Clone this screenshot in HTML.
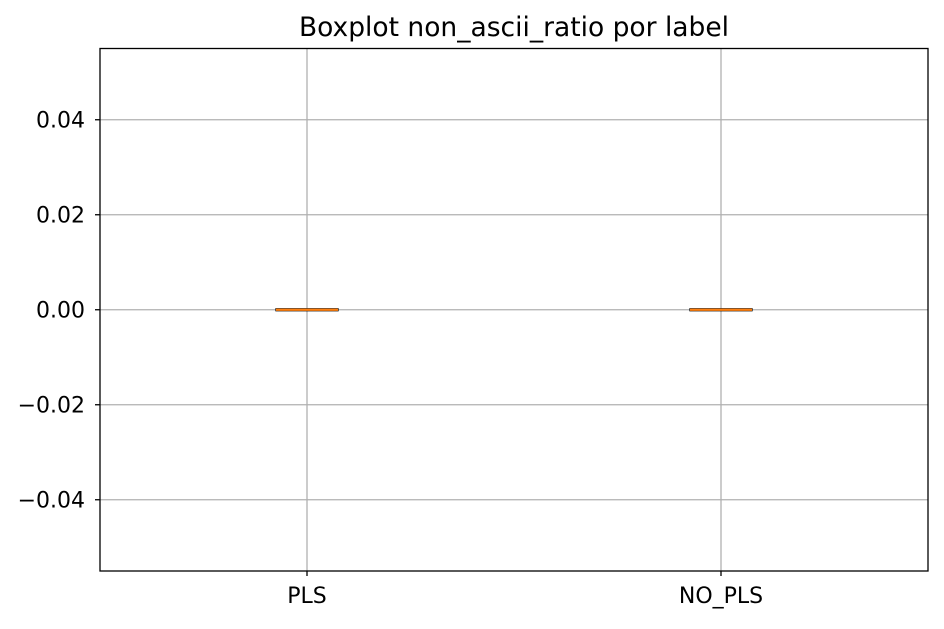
<!DOCTYPE html>
<html><head><meta charset="utf-8"><style>
html,body{margin:0;padding:0;background:#fff;}
svg text{font-family:"DejaVu Sans","Liberation Sans",sans-serif;fill:#000;}
</style></head><body>
<svg id="chart" width="944" height="624" xmlns="http://www.w3.org/2000/svg">
<text x="514" y="36" font-size="26.5" text-anchor="middle">Boxplot non_ascii_ratio por label</text>
<g id="grid"></g>
<g id="marks"></g>
<g id="axes"></g>
<rect x="100" y="48.5" width="828" height="522.5" fill="none" stroke="#000" stroke-width="1.3"/>
</svg>
<script>
const categories = ["PLS", "NO_PLS"];
const q1 = [0, 0];
const q3 = [0, 0];
const medians = [0, 0];
const whiskLo = [0, 0];
const whiskHi = [0, 0];
const yTicks = [0.04, 0.02, 0.00, -0.02, -0.04];
const yTickLabels = ["0.04", "0.02", "0.00", "\u22120.02", "\u22120.04"];

const L=100,R=928,T=48.5,B=571;
const yMin=-0.055,yMax=0.055;
const y=v=>B-(v-yMin)/(yMax-yMin)*(B-T);
const xMin=0.5,xMax=categories.length+0.5;
const x=i=>L+((i+1)-xMin)/(xMax-xMin)*(R-L);
const NS="http://www.w3.org/2000/svg";
const grid=document.getElementById('grid'),marks=document.getElementById('marks'),axes=document.getElementById('axes');
function mk(t,a,p){const e=document.createElementNS(NS,t);for(const k in a)e.setAttribute(k,a[k]);p.appendChild(e);return e;}
yTicks.forEach((v,i)=>{
  const g=mk('line',{x1:L,x2:R,y1:y(v),y2:y(v),stroke:'#b0b0b0','stroke-width':1.3},grid);
  
  
  const t=mk('line',{x1:L-5,x2:L,y1:y(v),y2:y(v),stroke:'#000','stroke-width':1.3},axes);
  
  
  const tx=mk('text',{x:L-15,y:y(v)+7.5,'font-size':22,'text-anchor':'end'},axes);
  tx.textContent=yTickLabels[i];
  
  
});
categories.forEach((c,i)=>{
  const cx=x(i);
  const g=mk('line',{x1:cx,x2:cx,y1:T,y2:B,stroke:'#b0b0b0','stroke-width':1.3},grid);
  
  
  const t=mk('line',{x1:cx,x2:cx,y1:B,y2:B+5,stroke:'#000','stroke-width':1.3},axes);
  
  
  const tx=mk('text',{x:cx,y:B+32,'font-size':22,'text-anchor':'middle'},axes);
  tx.textContent=c;
  
  
  const hw=31;
  const box=mk('rect',{x:cx-hw,y:y(q3[i])-1,width:2*hw,height:Math.max(2,y(q1[i])-y(q3[i])+2),fill:'none',stroke:'#000','stroke-width':1.2},marks);
  
  
  const w1=mk('line',{x1:cx,x2:cx,y1:y(whiskHi[i]),y2:y(q3[i]),stroke:'#000'},marks);
  
  
  const w2=mk('line',{x1:cx,x2:cx,y1:y(q1[i]),y2:y(whiskLo[i]),stroke:'#000'},marks);
  
  
  const m=mk('line',{x1:cx-hw,x2:cx+hw,y1:y(medians[i]),y2:y(medians[i]),stroke:'#ff7f0e','stroke-width':2.2},marks);
  
  
});
</script>
</body></html>
